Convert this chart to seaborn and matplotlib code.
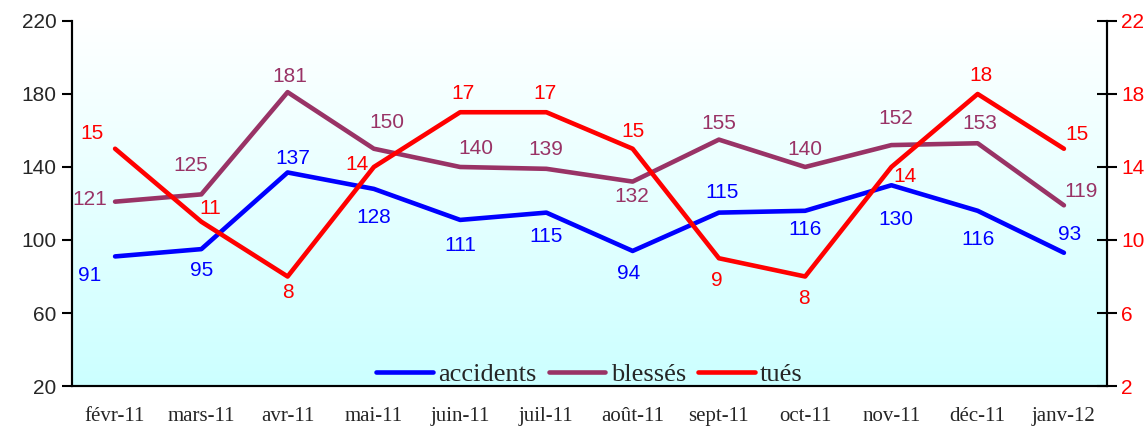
import numpy as np
import pandas as pd
import matplotlib
matplotlib.use("Agg")
import matplotlib.pyplot as plt
import seaborn as sns

# Data
months = ["févr-11", "mars-11", "avr-11", "mai-11", "juin-11", "juil-11",
          "août-11", "sept-11", "oct-11", "nov-11", "déc-11", "janv-12"]
accidents = [91, 95, 137, 128, 111, 115, 94, 115, 116, 130, 116, 93]
blesses = [121, 125, 181, 150, 140, 139, 132, 155, 140, 152, 153, 119]
tues = [15, 11, 8, 14, 17, 17, 15, 9, 8, 14, 18, 15]

# label offsets (pixels) for each point
off_acc = [(-25, -19), (0, -21), (5, 14), (0, -29), (0, -26), (0, -24),
           (-4, -23), (3, 20), (0, -19), (4, -34), (0, -29), (6, 18)]
off_ble = [(-25, 2), (-11, 29), (2, 16), (13, 26), (16, 18), (-1, 19),
           (-1, -15), (0, 16), (0, 17), (4, 27), (2, 20), (17, 14)]
off_tue = [(-23, 15), (9, 13), (0, -16), (-17, 2), (3, 19), (-1, 19),
           (0, 17), (-2, -22), (-1, -22), (14, -10), (3, 18), (13, 14)]

c_acc, c_ble, c_tue = "#0000FF", "#993366", "#FF0000"

df = pd.DataFrame({"mois": months, "accidents": accidents,
                   "blessés": blesses, "tués": tues})
df["x"] = np.arange(len(months))

sns.set_style("white")
plt.rcParams["font.family"] = ["Liberation Sans", "DejaVu Sans"]

fig, ax = plt.subplots(figsize=(11.44, 4.28), dpi=100)
fig.subplots_adjust(left=0.0629, right=0.9677, top=0.951, bottom=0.0981)
ax2 = ax.twinx()

# gradient background: white at top, light cyan at bottom
grad = np.linspace(0, 1, 256).reshape(-1, 1)
cmap = matplotlib.colors.LinearSegmentedColormap.from_list("bg", ["#FFFFFF", "#CCFFFF"])
ax.imshow(grad, aspect="auto", cmap=cmap, extent=[0, 1, 0, 1], origin="upper",
          transform=ax.transAxes, zorder=0)

lw = 3.3
sns.lineplot(data=df, x="x", y="accidents", ax=ax, color=c_acc, lw=lw,
             label="accidents", legend=False, zorder=3)
sns.lineplot(data=df, x="x", y="blessés", ax=ax, color=c_ble, lw=lw,
             label="blessés", legend=False, zorder=3)
sns.lineplot(data=df, x="x", y="tués", ax=ax2, color=c_tue, lw=lw,
             label="tués", legend=False, zorder=3)

for vals, offs, col, axx in [(accidents, off_acc, c_acc, ax),
                             (blesses, off_ble, c_ble, ax),
                             (tues, off_tue, c_tue, ax2)]:
    for i, (v, o) in enumerate(zip(vals, offs)):
        axx.annotate(str(v), (i, v), xytext=o, textcoords="offset pixels",
                     ha="center", va="center", color=col, fontsize=15)

ax.set_xlim(-0.5, len(months) - 0.5)
ax.set_ylim(20, 220)
ax.set_yticks([20, 60, 100, 140, 180, 220])
ax2.set_ylim(2, 22)
ax2.set_yticks([2, 6, 10, 14, 18, 22])

ax.set_xticks(df["x"])
ax.set_xticklabels(months, family="Liberation Serif", fontsize=15)
ax.set_xticks(np.arange(-0.5, len(months)), minor=True)
ax.tick_params(axis="x", which="major", length=0, pad=15)
ax.tick_params(axis="x", which="minor", length=7, width=1.5, direction="out", color="black")
ax.tick_params(axis="y", length=7, width=1.5, direction="out", labelsize=15, color="black", pad=4)
ax2.tick_params(axis="y", length=14, width=1.5, direction="inout", labelsize=15,
                labelcolor=c_tue, color="black", pad=3)

ax.set_xlabel("")
ax.set_ylabel("")
ax2.set_ylabel("")

for a in (ax, ax2):
    a.spines["top"].set_visible(False)
    for s in ("left", "right", "bottom"):
        a.spines[s].set_color("black")
        a.spines[s].set_linewidth(1.5)
ax2.patch.set_visible(False)

h1, l1 = ax.get_legend_handles_labels()
h2, l2 = ax2.get_legend_handles_labels()
leg = ax2.legend(h1 + h2, l1 + l2, loc="lower center", ncol=3, frameon=False,
                 prop={"family": "Liberation Serif", "size": 19},
                 handlelength=2.15, handletextpad=0.2, columnspacing=0.45,
                 borderaxespad=0.0, bbox_to_anchor=(0.5, -0.03))
for h in leg.get_lines():
    h.set_solid_capstyle("round")

fig.savefig("out.png", dpi=100)
